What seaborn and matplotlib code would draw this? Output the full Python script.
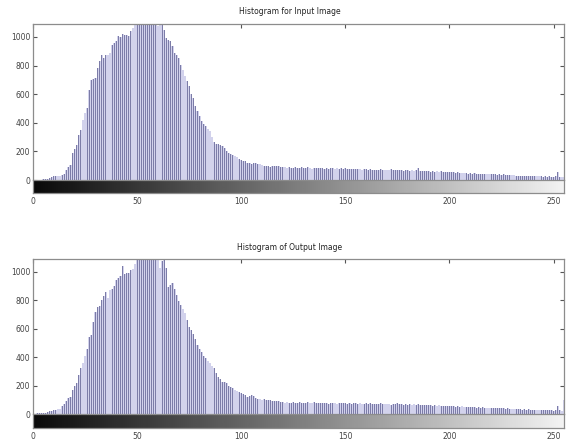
import numpy as np
import pandas as pd
import matplotlib
matplotlib.use("Agg")
import matplotlib.pyplot as plt
import seaborn as sns

# grey levels 0..255 and counts
livelli = list(range(256))

conteggi_input = [
    0, 0, 0, 1, 2, 4, 6, 8, 12, 18,
    25, 28, 30, 30, 32, 45, 70, 90, 105, 190,
    220, 245, 315, 350, 420, 467, 500, 630, 700, 705,
    713, 780, 830, 876, 853, 870, 875, 890, 946, 955,
    970, 1005, 1000, 1020, 1016, 1010, 1005, 1040, 1060, 1086,
    1130, 1150, 1180, 1200, 1160, 1220, 1190, 1170, 1140, 1120,
    1075, 1100, 1086, 1050, 993, 980, 970, 935, 888, 870,
    853, 806, 770, 724, 690, 654, 600, 572, 514, 480,
    444, 409, 390, 374, 355, 339, 300, 269, 255, 250,
    245, 235, 222, 205, 187, 180, 175, 168, 160, 150,
    140, 135, 130, 122, 117, 115, 120, 118, 110, 112,
    105, 100, 98, 96, 93, 95, 98, 100, 96, 92,
    88, 90, 85, 92, 86, 84, 90, 87, 85, 88,
    86, 82, 88, 84, 80, 85, 83, 86, 81, 84,
    80, 84, 78, 82, 85, 79, 81, 77, 83, 80,
    82, 78, 80, 76, 79, 74, 78, 75, 72, 77,
    74, 70, 76, 72, 70, 73, 69, 75, 71, 68,
    72, 69, 74, 70, 67, 71, 68, 72, 66, 70,
    68, 65, 70, 66, 69, 85, 64, 62, 66, 60,
    63, 59, 62, 58, 61, 57, 60, 56, 59, 55,
    58, 54, 57, 52, 55, 50, 48, 46, 49, 45,
    47, 44, 46, 42, 45, 43, 41, 44, 40, 43,
    42, 39, 41, 38, 40, 37, 39, 36, 38, 35,
    34, 32, 30, 31, 29, 30, 28, 29, 27, 28,
    27, 26, 28, 25, 27, 24, 26, 23, 25, 24,
    22, 30, 58, 22, 20, 18,
]

conteggi_output = [
    0, 2, 4, 5, 6, 8, 10, 14, 18, 22,
    25, 28, 32, 38, 55, 70, 90, 110, 123, 170,
    200, 216, 274, 320, 360, 410, 460, 542, 553, 646,
    716, 750, 760, 802, 832, 855, 816, 872, 880, 902,
    942, 955, 972, 1042, 983, 990, 995, 1010, 1018, 1053,
    1120, 1150, 1170, 1200, 1180, 1220, 1160, 1140, 1170, 1110,
    1095, 1030, 1077, 1081, 1030, 890, 905, 918, 879, 840,
    797, 770, 740, 709, 660, 612, 588, 560, 530, 484,
    460, 437, 410, 391, 370, 356, 340, 321, 290, 263,
    245, 228, 222, 216, 200, 190, 181, 170, 165, 155,
    147, 140, 132, 123, 128, 135, 125, 110, 105, 108,
    100, 102, 98, 100, 95, 92, 88, 90, 88, 85,
    82, 78, 84, 80, 76, 82, 79, 77, 83, 78,
    80, 76, 82, 78, 75, 81, 77, 79, 74, 80,
    76, 79, 73, 78, 75, 80, 72, 77, 74, 76,
    78, 73, 76, 72, 77, 74, 71, 75, 73, 70,
    74, 71, 76, 70, 73, 69, 72, 75, 70, 68,
    72, 69, 66, 71, 68, 74, 67, 70, 65, 69,
    66, 70, 64, 68, 63, 67, 62, 65, 60, 64,
    61, 63, 58, 62, 57, 60, 56, 59, 55, 58,
    57, 54, 56, 52, 55, 50, 53, 49, 52, 48,
    50, 47, 49, 45, 48, 44, 46, 43, 45, 42,
    44, 41, 43, 40, 42, 39, 41, 38, 40, 37,
    36, 34, 35, 32, 34, 31, 33, 30, 32, 30,
    31, 28, 30, 27, 29, 26, 28, 25, 27, 26,
    24, 30, 58, 25, 22, 100,
]

titoli = ["Histogram for Input Image", "Histogram of Output Image"]
tick_x = [0, 50, 100, 150, 200, 250]
tick_y = [0, 200, 400, 600, 800, 1000]

sns.set_style("white")
plt.rcParams['font.family'] = ['DejaVu Sans']

W, H = 568, 441
fig = plt.figure(figsize=(W / 100, H / 100), dpi=100)

colore_bordo = "#8c8c8c"

# pixel boxes: (top of stem axes, zero line, bottom of colour strip, title y)
pannelli = [(24, 180, 193, 12), (259, 414, 428, 248)]
sinistra, destra = 33, 564

for (top, zero, fondo, ytit), titolo, conteggi in zip(pannelli, titoli, [conteggi_input, conteggi_output]):
    ax = fig.add_axes([sinistra / W, 1 - zero / H, (destra - sinistra) / W, (zero - top) / H])
    cb = fig.add_axes([sinistra / W, 1 - fondo / H, (destra - sinistra) / W, (fondo - zero) / H])

    dati = pd.DataFrame({"livello": livelli, "conteggio": conteggi})
    # light halo + dark stem, like the blurred MATLAB stems
    sns.histplot(data=dati, x="livello", weights="conteggio", discrete=True, shrink=1.0,
                 color="#d2d2ec", edgecolor="none", linewidth=0, alpha=1, ax=ax)
    sns.histplot(data=dati, x="livello", weights="conteggio", discrete=True, shrink=0.4,
                 color="#7c7ca8", edgecolor="none", linewidth=0, alpha=1, ax=ax)

    ax.set_xlim(0, 255)
    ax.set_ylim(0, 1090)
    ax.set_xlabel("")
    ax.set_ylabel("")
    ax.set_yticks(tick_y)
    ax.set_xticks(tick_x)
    ax.tick_params(axis="y", direction="in", length=3, width=0.8, color="#555555",
                   labelsize=5.5, labelcolor="#444444", pad=2, right=True, left=True)
    ax.tick_params(axis="x", direction="in", length=3, width=0.8, color="#555555",
                   top=True, bottom=False, labelbottom=False)
    for s in ax.spines.values():
        s.set_color(colore_bordo)
        s.set_linewidth(0.9)
    ax.spines["bottom"].set_visible(False)

    # grey-level strip under the histogram
    cb.imshow(np.array(livelli)[None, :], cmap="gray", vmin=-10, vmax=268,
              aspect="auto", extent=[-0.5, 255.5, 0, 1], interpolation="bilinear")
    cb.set_xlim(0, 255)
    cb.set_ylim(0, 1)
    cb.set_yticks([])
    cb.set_xticks(tick_x)
    cb.tick_params(axis="x", direction="in", length=(fondo - zero) * 0.72, width=0.8,
                   color="#222222", labelsize=5.5, labelcolor="#444444", pad=3)
    for s in cb.spines.values():
        s.set_color(colore_bordo)
        s.set_linewidth(0.9)

    fig.text((sinistra + destra) / 2 / W - 0.015, 1 - ytit / H, titolo,
             ha="center", va="center", fontsize=5.5, color="#222222")

fig.savefig("out.png", dpi=100)
